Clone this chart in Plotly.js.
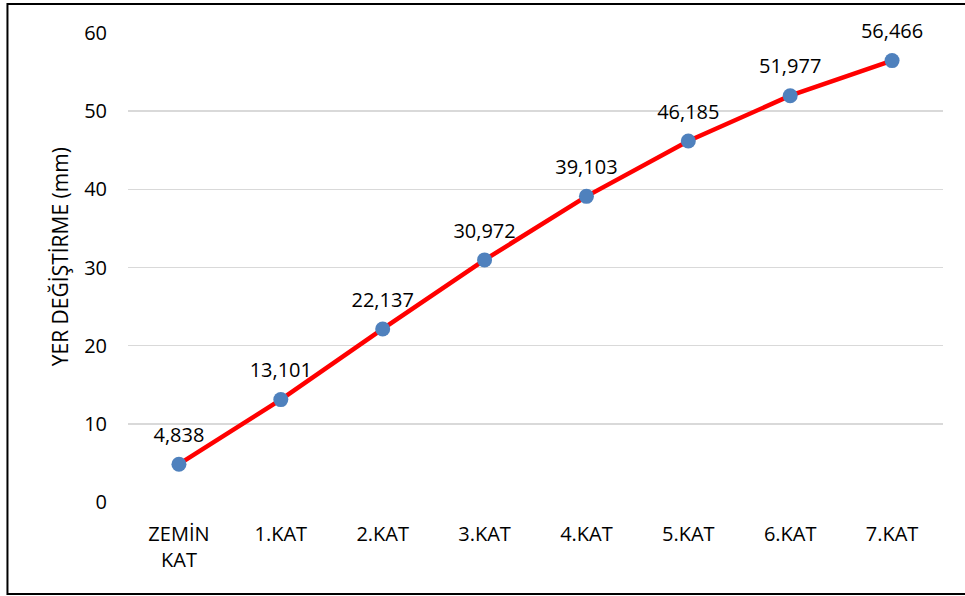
<!DOCTYPE html>
<html>
<head>
<meta charset="utf-8">
<script src="https://cdn.plot.ly/plotly-3.0.1.min.js"></script>
<style>html,body{margin:0;padding:0;background:#fff;}#chart{width:965px;height:596px;}</style>
</head>
<body>
<div id="chart"></div>
<script>
const categories = ["ZEMİN<br>KAT", "1.KAT", "2.KAT", "3.KAT", "4.KAT", "5.KAT", "6.KAT", "7.KAT"];
const displacement = [4.838, 13.101, 22.137, 30.972, 39.103, 46.185, 51.977, 56.466];
const labels = ["4,838", "13,101", "22,137", "30,972", "39,103", "46,185", "51,977", "56,466"];
const yTicks = [0, 10, 20, 30, 40, 50, 60];
const yTitle = "YER DEĞİŞTİRME (mm)";

const font = "Open Sans, Liberation Sans, sans-serif";

const lineTrace = {
  x: categories,
  y: displacement,
  type: "scatter",
  mode: "lines+markers",
  line: {color: "#FF0000", width: 4.5},
  marker: {color: "#4F81BD", size: 15},
  cliponaxis: false,
  hoverinfo: "skip"
};

const labelTrace = {
  x: categories,
  y: displacement,
  type: "scatter",
  mode: "markers+text",
  text: labels,
  textposition: "top center",
  textfont: {family: font, size: 20, color: "#000"},
  marker: {color: "rgba(0,0,0,0)", size: 26},
  cliponaxis: false,
  hoverinfo: "skip"
};

const layout = {
  width: 965, height: 596,
  margin: {l: 128, r: 22, t: 33, b: 94},
  paper_bgcolor: "#fff", plot_bgcolor: "#fff",
  showlegend: false,
  font: {family: font, size: 20, color: "#000"},
  xaxis: {
    type: "category",
    range: [-0.5, 7.5],
    showgrid: false, zeroline: false, showline: false,
    ticks: "", ticklabelstandoff: 18,
    tickfont: {family: font, size: 20, color: "#000"},
    fixedrange: true
  },
  yaxis: {
    range: [0, 60],
    tickvals: yTicks,
    ticktext: yTicks.map(String),
    showgrid: true, gridcolor: "#D9D9D9", gridwidth: 1.5,
    zeroline: false, showline: false, ticks: "",
    ticklabelstandoff: 20,
    tickfont: {family: font, size: 20, color: "#000"},
    fixedrange: true
  },
  annotations: [{
    text: yTitle, xref: "paper", yref: "paper",
    x: -0.0834, y: 0.522, xanchor: "center", yanchor: "middle",
    textangle: -90, showarrow: false,
    font: {family: font, size: 21, color: "#000"}
  }],
  shapes: [{
    type: "rect", xref: "paper", yref: "paper",
    x0: -0.1479, x1: 1.04, y0: -0.196, y1: 1.0618,
    line: {color: "#000", width: 2}, fillcolor: "rgba(0,0,0,0)", layer: "below"
  }]
};

Plotly.newPlot("chart", [lineTrace, labelTrace], layout, {displayModeBar: false, staticPlot: true});
</script>
</body>
</html>
